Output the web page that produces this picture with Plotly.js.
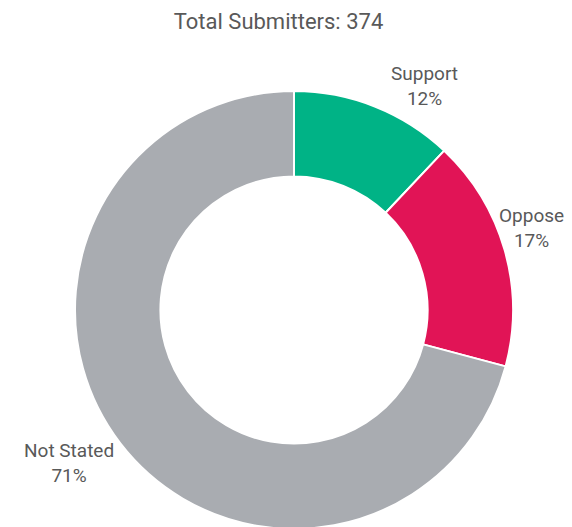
<!DOCTYPE html>
<html>
<head>
<meta charset="utf-8">
<script src="https://cdn.plot.ly/plotly-3.0.1.min.js"></script>
<style>
html, body { margin: 0; padding: 0; overflow: hidden; background: #fff; }
#chart { width: 572px; height: 531px; }
</style>
</head>
<body>
<div id="chart"></div>
<script>
var categories = ["Support", "Oppose", "Not Stated"];
var counts = [45, 64, 265];
var colors = ["#00B386", "#E11456", "#A9ACB1"];
var titleText = "Total Submitters: 374";

var W = 572, H = 531;
var M = { l: 75, r: 59, t: 91, b: 2 };
var plotW = W - M.l - M.r, plotH = H - M.t - M.b;

// label anchor positions in pixels (centre of text block)
var labelPx = [[424, 86], [531, 228], [69, 463]];

var total = counts.reduce(function (a, b) { return a + b; }, 0);
var annotations = categories.map(function (c, i) {
  var pct = Math.round(counts[i] / total * 100);
  return {
    text: c + "<br>" + pct + "%",
    xref: "paper", yref: "paper",
    x: (labelPx[i][0] - M.l) / plotW,
    y: 1 - (labelPx[i][1] - M.t) / plotH,
    xanchor: "center", yanchor: "middle",
    showarrow: false,
    align: "center",
    font: { family: "Roboto, sans-serif", size: 19, color: "#595959" }
  };
});

var trace = {
  type: "pie",
  labels: categories,
  values: counts,
  hole: 0.61,
  sort: false,
  direction: "clockwise",
  rotation: 0,
  marker: { colors: colors, line: { color: "#ffffff", width: 2 } },
  textinfo: "none",
  hoverinfo: "label+value+percent",
  showlegend: false
};

var layout = {
  width: W,
  height: H,
  margin: M,
  paper_bgcolor: "#ffffff",
  title: {
    text: titleText,
    font: { family: "Roboto, sans-serif", size: 22, color: "#595959" },
    x: 278.5 / W,
    xanchor: "center",
    y: 1 - 21 / H,
    yanchor: "middle",
    yref: "container",
    xref: "container"
  },
  annotations: annotations,
  showlegend: false
};

Plotly.newPlot("chart", [trace], layout, { displayModeBar: false, staticPlot: true });
</script>
</body>
</html>
